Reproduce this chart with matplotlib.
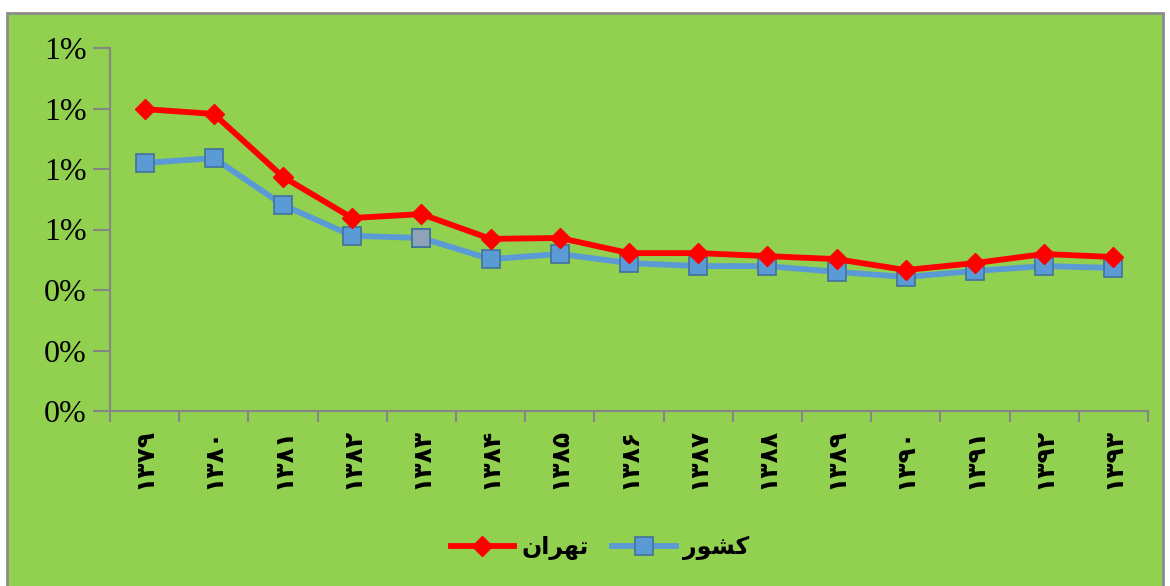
import matplotlib
matplotlib.use('Agg')
import matplotlib.pyplot as plt
import matplotlib.patches as patches
from matplotlib.ticker import FuncFormatter, FixedLocator

# =============================================================================
# DATOS
# =============================================================================
years = ['۱۳۷۹', '۱۳۸۰', '۱۳۸۱', '۱۳۸۲', '۱۳۸۳', '۱۳۸۴', '۱۳۸۵', '۱۳۸۶',
         '۱۳۸۷', '۱۳۸۸', '۱۳۸۹', '۱۳۹۰', '۱۳۹۱', '۱۳۹۲', '۱۳۹۳']
tehran = [0.00998, 0.00982, 0.00774, 0.00638, 0.00651, 0.00569, 0.00572, 0.00522,
          0.00522, 0.00512, 0.00502, 0.00466, 0.00489, 0.00519, 0.00509]
keshvar = [0.00820, 0.00836, 0.00681, 0.00579, 0.00572, 0.00502, 0.00519, 0.00489,
           0.00479, 0.00479, 0.00460, 0.00443, 0.00463, 0.00479, 0.00473]
# etiquetas de leyenda (formas de presentación, orden visual)
label_tehran = '\uFEE5\uFE8D\uFEAE\uFEEC\uFE97'   # تهران
label_keshvar = '\uFEAD\uFEEE\uFEB8\uFB90'        # کشور

GREEN = '#92D050'
GRAY = '#868686'

fig = plt.figure(figsize=(11.7, 5.86), dpi=100, facecolor='white')
# fondo verde con borde gris
bg = patches.Rectangle((7 / 1170, -0.01), 1156 / 1170, (586 - 13) / 586 + 0.01,
                       transform=fig.transFigure, facecolor=GREEN,
                       edgecolor='#8c8c8c', linewidth=2, zorder=-10)
fig.patches.append(bg)

ax = fig.add_axes([110 / 1170, (586 - 411) / 586, (1148 - 110) / 1170, (411 - 48) / 586])
ax.patch.set_alpha(0)

x = list(range(len(years)))
ax.plot(x, tehran, color='#FF0000', linewidth=4.2, marker='D', markersize=10,
        markerfacecolor='#FF0000', markeredgecolor='#FF0000', label=label_tehran, zorder=4)
ax.plot(x, keshvar, color='#5B9BD5', linewidth=4.2, marker='s', markersize=13,
        markerfacecolor='#5B9BD5', markeredgecolor='#41719C', markeredgewidth=1.2,
        label=label_keshvar, zorder=3)
# el marcador de 1383 aparece con relleno grisáceo
ax.plot(x, keshvar, linestyle='none', marker='s', markersize=13, markevery=[4],
        markerfacecolor='#8EA3B8', markeredgecolor='#41719C', markeredgewidth=1.2, zorder=3.5)

ax.set_xlim(-0.5, len(years) - 0.5)
ax.set_ylim(0, 0.012)
ax.set_yticks([0, 0.002, 0.004, 0.006, 0.008, 0.010, 0.012])
ax.yaxis.set_major_formatter(FuncFormatter(lambda v, p: f"{v * 100:.0f}%"))
for t in ax.get_yticklabels():
    t.set_fontfamily('Liberation Serif')
    t.set_fontsize(23)

# ticks del eje x en los bordes de categoría, etiquetas en el centro
ax.xaxis.set_major_locator(FixedLocator([i - 0.5 for i in range(len(years) + 1)]))
ax.xaxis.set_major_formatter(FuncFormatter(lambda v, p: ''))
ax.xaxis.set_minor_locator(FixedLocator(x))
ax.set_xticklabels(years, minor=True, rotation=90, fontsize=18, fontweight='bold',
                   fontfamily='DejaVu Sans')
ax.tick_params(axis='x', which='major', length=8, color=GRAY, width=1.5, direction='out')
ax.tick_params(axis='x', which='minor', length=0, pad=12)
ax.tick_params(axis='y', length=12, color=GRAY, width=1.5, direction='out', pad=5)

for s in ['top', 'right']:
    ax.spines[s].set_visible(False)
for s in ['left', 'bottom']:
    ax.spines[s].set_color(GRAY)
    ax.spines[s].set_linewidth(1.5)

leg = fig.legend(loc='center', bbox_to_anchor=(600 / 1170, 1 - 548 / 586), ncol=2,
                 frameon=False, handlelength=2.7, columnspacing=1.0,
                 handletextpad=0.3, prop={'family': 'DejaVu Sans', 'size': 17, 'weight': 'bold'})

plt.savefig('out.png', dpi=100, facecolor=fig.get_facecolor())
